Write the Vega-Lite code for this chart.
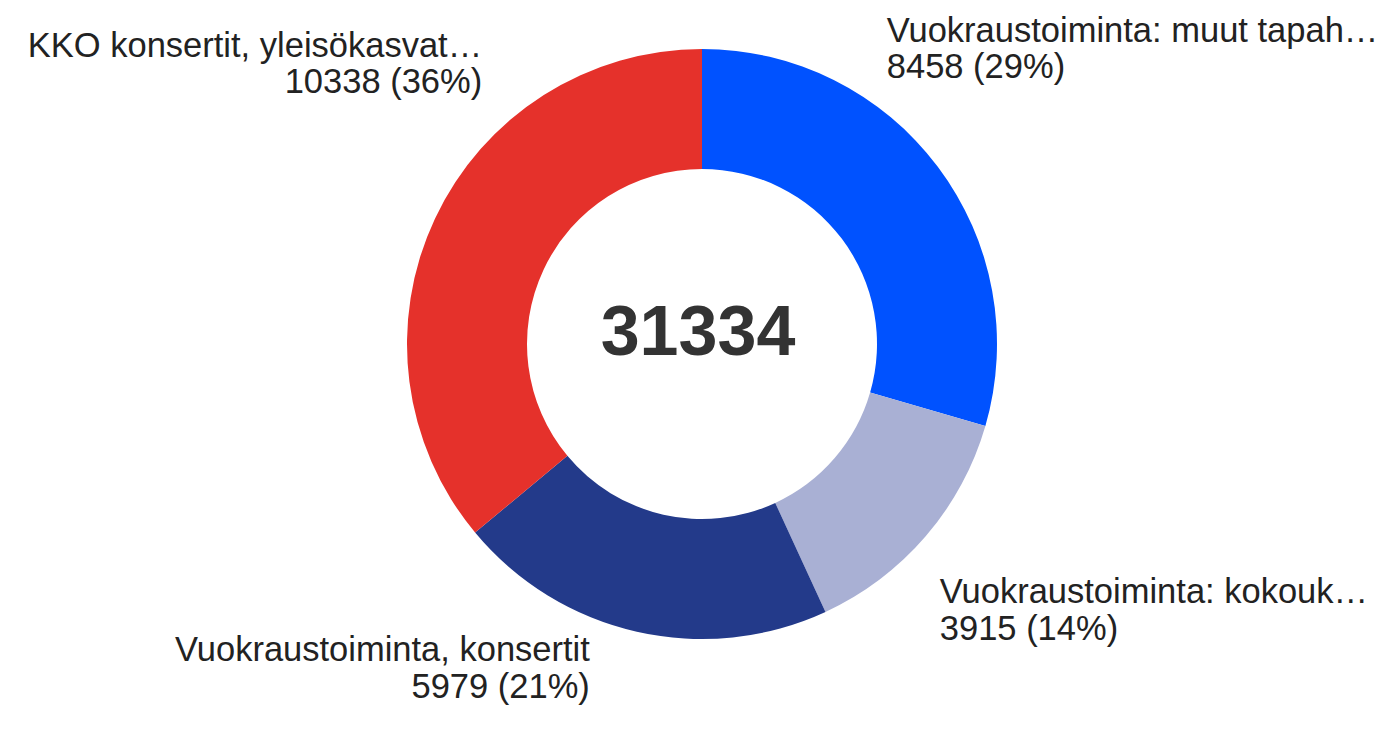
{
  "$schema": "https://vega.github.io/schema/vega-lite/v6.json",
  "width": 1382,
  "height": 688,
  "autosize": {"type": "none"},
  "padding": {"left": 11, "top": 0, "right": 0, "bottom": 48},
  "background": "white",
  "config": {"view": {"stroke": null}, "font": "Liberation Sans"},
  "datasets": {
    "slices": [
      {"ord": 1, "name": "Vuokraustoiminta: muut tapah…", "value": 8458, "lines": ["Vuokraustoiminta: muut tapah…", "8458 (29%)"]},
      {"ord": 2, "name": "Vuokraustoiminta: kokouk…", "value": 3915, "lines": ["Vuokraustoiminta: kokouk…", "3915 (14%)"]},
      {"ord": 3, "name": "Vuokraustoiminta, konsertit", "value": 5979, "lines": ["Vuokraustoiminta, konsertit", "5979 (21%)"]},
      {"ord": 4, "name": "KKO konsertit, yleisökasvat…", "value": 10338, "lines": ["KKO konsertit, yleisökasvat…", "10338 (36%)"]}
    ],
    "center": [{"total": "31334"}]
  },
  "layer": [
    {
      "data": {"name": "slices"},
      "mark": {"type": "arc", "outerRadius": 295, "innerRadius": 175},
      "encoding": {
        "theta": {"field": "value", "type": "quantitative", "stack": true},
        "order": {"field": "ord"},
        "color": {
          "field": "name",
          "type": "nominal",
          "scale": {
            "domain": ["Vuokraustoiminta: muut tapah…", "Vuokraustoiminta: kokouk…", "Vuokraustoiminta, konsertit", "KKO konsertit, yleisökasvat…"],
            "range": ["#0052ff", "#a9b0d4", "#233a8a", "#e5312b"]
          },
          "legend": null
        }
      }
    },
    {
      "data": {"name": "slices"},
      "mark": {"type": "text", "radius": 340, "align": "left", "baseline": "alphabetic", "dx": -87, "dy": -98, "fontSize": 34.5, "lineHeight": 36, "fill": "#222"},
      "encoding": {
        "theta": {"field": "value", "type": "quantitative", "stack": true},
        "order": {"field": "ord"},
        "text": {"condition": {"test": "datum.ord === 1", "field": "lines"}, "value": ""}
      }
    },
    {
      "data": {"name": "slices"},
      "mark": {"type": "text", "radius": 340, "align": "left", "baseline": "alphabetic", "dx": -20, "dy": 37, "fontSize": 34.5, "lineHeight": 37, "fill": "#222"},
      "encoding": {
        "theta": {"field": "value", "type": "quantitative", "stack": true},
        "order": {"field": "ord"},
        "text": {"condition": {"test": "datum.ord === 2", "field": "lines"}, "value": ""}
      }
    },
    {
      "data": {"name": "slices"},
      "mark": {"type": "text", "radius": 340, "align": "right", "baseline": "alphabetic", "dx": -37, "dy": -15, "fontSize": 34.5, "lineHeight": 37, "fill": "#222"},
      "encoding": {
        "theta": {"field": "value", "type": "quantitative", "stack": true},
        "order": {"field": "ord"},
        "text": {"condition": {"test": "datum.ord === 3", "field": "lines"}, "value": ""}
      }
    },
    {
      "data": {"name": "slices"},
      "mark": {"type": "text", "radius": 340, "align": "right", "baseline": "alphabetic", "dx": 88, "dy": -143, "fontSize": 34.5, "lineHeight": 36, "fill": "#222"},
      "encoding": {
        "theta": {"field": "value", "type": "quantitative", "stack": true},
        "order": {"field": "ord"},
        "text": {"condition": {"test": "datum.ord === 4", "field": "lines"}, "value": ""}
      }
    },
    {
      "data": {"name": "center"},
      "mark": {"type": "text", "align": "center", "baseline": "alphabetic", "dx": -4, "dy": 11, "fontSize": 70, "fontWeight": "bold", "fill": "#333"},
      "encoding": {"text": {"field": "total"}}
    }
  ]
}
